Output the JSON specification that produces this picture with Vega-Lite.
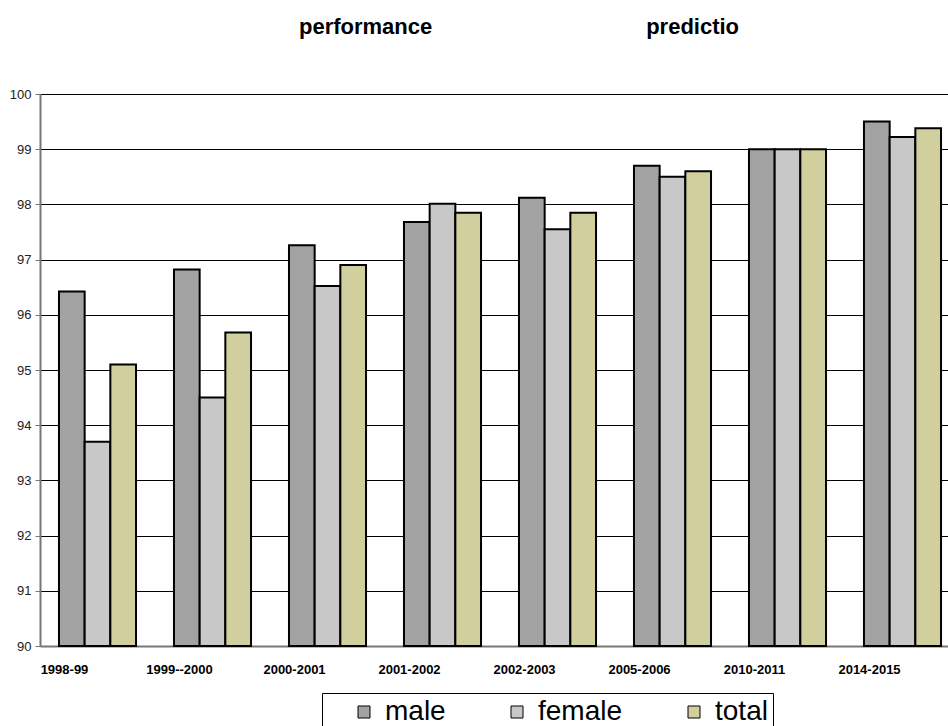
{
  "$schema": "https://vega.github.io/schema/vega-lite/v6.json",
  "width": 920,
  "height": 552,
  "autosize": "none",
  "padding": {"left": 40, "top": 94, "right": 0, "bottom": 80},
  "background": "white",
  "title": {
    "text": "performance\u00a0\u00a0\u00a0\u00a0\u00a0\u00a0\u00a0\u00a0\u00a0\u00a0\u00a0\u00a0\u00a0\u00a0\u00a0\u00a0\u00a0\u00a0\u00a0\u00a0\u00a0\u00a0\u00a0\u00a0\u00a0\u00a0\u00a0\u00a0\u00a0\u00a0\u00a0\u00a0\u00a0\u00a0\u00a0predictio",
    "font": "Liberation Sans",
    "fontSize": 22,
    "fontWeight": "bold",
    "color": "black",
    "anchor": "middle",
    "baseline": "alphabetic",
    "dx": 19,
    "offset": 32
  },
  "data": {
    "values": [
      {"period": "1998-99", "sex": "male", "value": 96.42},
      {"period": "1998-99", "sex": "female", "value": 93.7},
      {"period": "1998-99", "sex": "total", "value": 95.1},
      {"period": "1999--2000", "sex": "male", "value": 96.82},
      {"period": "1999--2000", "sex": "female", "value": 94.5},
      {"period": "1999--2000", "sex": "total", "value": 95.68},
      {"period": "2000-2001", "sex": "male", "value": 97.26},
      {"period": "2000-2001", "sex": "female", "value": 96.52},
      {"period": "2000-2001", "sex": "total", "value": 96.9},
      {"period": "2001-2002", "sex": "male", "value": 97.68},
      {"period": "2001-2002", "sex": "female", "value": 98.01},
      {"period": "2001-2002", "sex": "total", "value": 97.85},
      {"period": "2002-2003", "sex": "male", "value": 98.12},
      {"period": "2002-2003", "sex": "female", "value": 97.55},
      {"period": "2002-2003", "sex": "total", "value": 97.85},
      {"period": "2005-2006", "sex": "male", "value": 98.7},
      {"period": "2005-2006", "sex": "female", "value": 98.5},
      {"period": "2005-2006", "sex": "total", "value": 98.6},
      {"period": "2010-2011", "sex": "male", "value": 99.0},
      {"period": "2010-2011", "sex": "female", "value": 99.0},
      {"period": "2010-2011", "sex": "total", "value": 99.0},
      {"period": "2014-2015", "sex": "male", "value": 99.5},
      {"period": "2014-2015", "sex": "female", "value": 99.22},
      {"period": "2014-2015", "sex": "total", "value": 99.38}
    ]
  },
  "mark": {"type": "bar", "stroke": "black", "strokeWidth": 2},
  "encoding": {
    "x": {
      "field": "period",
      "type": "nominal",
      "sort": null,
      "scale": {"paddingInner": 0.33, "paddingOuter": 0.165},
      "axis": {
        "title": null,
        "labelAngle": 0,
        "labelFont": "Liberation Sans",
        "labelFontSize": 13,
        "labelFontWeight": "bold",
        "labelColor": "black",
        "labelAlign": "center",
        "labelOffset": -33,
        "labelPadding": 17,
        "labelOverlap": false,
        "ticks": false,
        "domainColor": "#777777",
        "domainWidth": 2
      }
    },
    "xOffset": {
      "field": "sex",
      "sort": ["male", "female", "total"],
      "scale": {"paddingInner": 0, "paddingOuter": 0}
    },
    "y": {
      "field": "value",
      "type": "quantitative",
      "scale": {"domain": [90, 100], "zero": false, "nice": false},
      "axis": {
        "title": null,
        "values": [90, 91, 92, 93, 94, 95, 96, 97, 98, 99, 100],
        "labelFont": "Liberation Sans",
        "labelFontSize": 13,
        "labelColor": "#222222",
        "labelPadding": 4,
        "tickSize": 5,
        "tickColor": "#777777",
        "domainColor": "#777777",
        "domainWidth": 2,
        "grid": true,
        "gridColor": "black",
        "gridWidth": 1,
        "gridOpacity": 1
      }
    },
    "y2": {"datum": 90},
    "color": {
      "field": "sex",
      "type": "nominal",
      "scale": {"domain": ["male", "female", "total"], "range": ["#a2a2a2", "#c8c8c8", "#d2cf9e"]},
      "legend": {
        "title": null,
        "orient": "none",
        "legendX": 282,
        "legendY": 599,
        "direction": "horizontal",
        "strokeColor": "black",
        "fillColor": "white",
        "padding": 5,
        "labelFont": "Liberation Sans",
        "labelFontSize": 28,
        "labelColor": "black",
        "labelLimit": 300,
        "labelExpr": "datum.label == 'total' ? 'total\u2003' : datum.label",
        "symbolType": "square",
        "symbolSize": 144,
        "symbolStrokeColor": "black",
        "symbolStrokeWidth": 1,
        "symbolOpacity": 1,
        "symbolOffset": 23,
        "columnPadding": 34,
        "labelOffset": 7
      }
    }
  },
  "config": {"view": {"stroke": null}}
}
